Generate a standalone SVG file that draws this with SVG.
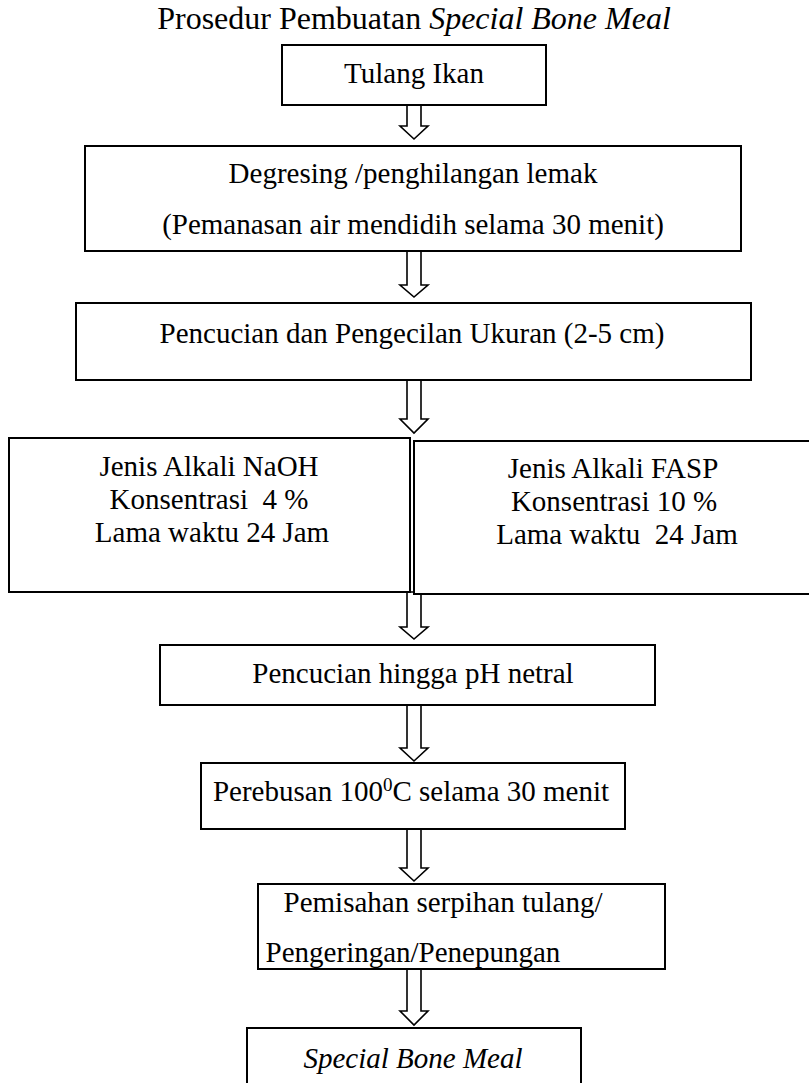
<svg xmlns="http://www.w3.org/2000/svg" width="809" height="1083" viewBox="0 0 809 1083">
  <style>
    .box { fill: #ffffff; stroke: #000000; stroke-width: 2; }
    .arrow { fill: #ffffff; stroke: #000000; stroke-width: 1.6; stroke-linejoin: miter; }
    .t { font-family: "Liberation Serif", "Times New Roman", serif; font-size: 29px; fill: #000000; text-anchor: middle; }
    .title { font-family: "Liberation Serif", "Times New Roman", serif; font-size: 32px; fill: #000000; text-anchor: middle; }
    .it { font-style: italic; }
  </style>
  <rect x="0" y="0" width="809" height="1083" fill="#ffffff"/>

  <text class="title" x="414" y="29">Prosedur Pembuatan <tspan class="it">Special Bone Meal</tspan></text>

  <!-- hollow block arrows between the steps -->
  <g id="connectors">
    <polygon class="arrow" points="407,105 421,105 421,126 428,126 414,139 400,126 407,126"/>
    <polygon class="arrow" points="407,251 421,251 421,285 428,285 414,297 400,285 407,285"/>
    <polygon class="arrow" points="407,380 421,380 421,419 428,419 414,433 400,419 407,419"/>
    <polygon class="arrow" points="407,592 421,592 421,627 428,627 414,639 400,627 407,627"/>
    <polygon class="arrow" points="407,705 421,705 421,748 428,748 414,761 400,748 407,748"/>
    <polygon class="arrow" points="407,829 421,829 421,868 428,868 414,881 400,868 407,868"/>
    <polygon class="arrow" points="407,969 421,969 421,1011 428,1011 414,1025 400,1011 407,1011"/>
  </g>

  <g id="tulang-ikan">
    <rect class="box" x="282" y="45" width="264" height="60"/>
    <text class="t" x="414" y="83">Tulang Ikan</text>
  </g>

  <g id="degresing">
    <rect class="box" x="85" y="146" width="656" height="105"/>
    <text class="t" x="413" y="183">Degresing /penghilangan lemak</text>
    <text class="t" x="413" y="234">(Pemanasan air mendidih selama 30 menit)</text>
  </g>

  <g id="pencucian-pengecilan">
    <rect class="box" x="76" y="303" width="675" height="77"/>
    <text class="t" x="412" y="343">Pencucian dan Pengecilan Ukuran (2-5 cm)</text>
  </g>

  <g id="alkali-naoh">
    <rect class="box" x="9" y="438" width="401" height="154"/>
    <text class="t" x="209" y="476">Jenis Alkali NaOH</text>
    <text class="t" x="209" y="509" xml:space="preserve">Konsentrasi  4 %</text>
    <text class="t" x="212" y="542">Lama waktu 24 Jam</text>
  </g>

  <g id="alkali-fasp">
    <rect class="box" x="414" y="441" width="398" height="153"/>
    <text class="t" x="613" y="478">Jenis Alkali FASP</text>
    <text class="t" x="614" y="511">Konsentrasi 10 %</text>
    <text class="t" x="617" y="544" xml:space="preserve">Lama waktu  24 Jam</text>
  </g>

  <g id="pencucian-ph">
    <rect class="box" x="160" y="645" width="495" height="60"/>
    <text class="t" x="413" y="683">Pencucian hingga pH netral</text>
  </g>

  <g id="perebusan">
    <rect class="box" x="201" y="763" width="424" height="66"/>
    <text class="t" x="411" y="801">Perebusan 100<tspan font-size="19" dy="-10">0</tspan><tspan dy="10">C selama 30 menit</tspan></text>
  </g>

  <g id="pemisahan">
    <rect class="box" x="258" y="884" width="407" height="85"/>
    <text class="t" x="443" y="912">Pemisahan serpihan tulang/</text>
    <text class="t" x="413" y="962">Pengeringan/Penepungan</text>
  </g>

  <g id="special-bone-meal">
    <rect class="box" x="247" y="1028" width="334" height="70"/>
    <text class="t it" x="413" y="1068" font-size="32">Special Bone Meal</text>
  </g>
</svg>
